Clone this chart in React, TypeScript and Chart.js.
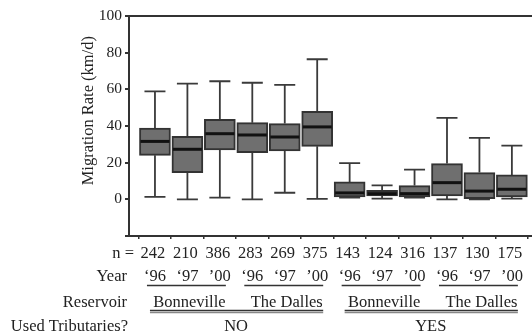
import React, { useEffect, useRef } from 'react';
import { Chart, registerables } from 'chart.js';

Chart.register(...registerables);

// ---- Data ----
const nCounts = ['242', '210', '386', '283', '269', '375', '143', '124', '316', '137', '130', '175'];
const years = ['‘96', '‘97', '’00', '‘96', '‘97', '’00', '‘96', '‘97', '’00', '‘96', '‘97', '’00'];
const reservoirs = ['Bonneville', 'The Dalles', 'Bonneville', 'The Dalles'];
const tributaries = ['NO', 'YES'];
const whiskerLow = [1.3, 0, 0.9, 0, 3.6, 0.2, 0.9, 0.4, 0.9, 0, 0, 0.4];
const q1 = [24, 14.6, 26.9, 25.5, 26.4, 28.9, 1.3, 1.8, 1.3, 1.8, 0.4, 1.3];
const median = [31.6, 27.3, 35.8, 35.1, 34, 39.5, 3.5, 3.1, 3.1, 9.1, 4.5, 5.5];
const q3 = [38.9, 34.4, 43.6, 41.8, 41.3, 48, 9.5, 4.9, 7.5, 19.5, 14.6, 13.3];
const whiskerHigh = [58.9, 63.1, 64.4, 63.6, 62.4, 76.4, 19.8, 7.6, 16.2, 44.4, 33.5, 29.3];
const yTickValues = [-20, 0, 20, 40, 60, 80, 100];
const yTitle = 'Migration Rate (km/d)';
const rowLabels = ['Year', 'Reservoir', 'Used Tributaries?'];

const FONT = '"Liberation Serif", "Times New Roman", serif';
const INK = '#222';

const boxPlugin = {
  id: 'boxExtras',
  beforeDatasetsDraw(chart: any) {
    const { ctx, scales } = chart;
    const x = scales.x, y = scales.y;
    ctx.save();
    ctx.strokeStyle = '#3a3a3a';
    ctx.lineWidth = 1.8;
    for (let i = 0; i < q1.length; i++) {
      const cx = x.getPixelForValue(i + 1);
      const yHi = y.getPixelForValue(whiskerHigh[i]);
      const yLo = y.getPixelForValue(whiskerLow[i]);
      ctx.beginPath();
      ctx.moveTo(cx, yHi);
      ctx.lineTo(cx, y.getPixelForValue(q3[i]));
      ctx.moveTo(cx, y.getPixelForValue(q1[i]));
      ctx.lineTo(cx, yLo);
      ctx.moveTo(cx - 10.5, yHi);
      ctx.lineTo(cx + 10.5, yHi);
      ctx.moveTo(cx - 10.5, yLo);
      ctx.lineTo(cx + 10.5, yLo);
      ctx.stroke();
    }
    ctx.restore();
  },
  afterDatasetsDraw(chart: any) {
    const { ctx, scales, chartArea } = chart;
    const x = scales.x, y = scales.y;
    ctx.save();
    // medians
    ctx.strokeStyle = '#111';
    ctx.lineWidth = 3;
    for (let i = 0; i < median.length; i++) {
      const cx = x.getPixelForValue(i + 1);
      const my = y.getPixelForValue(median[i]);
      ctx.beginPath();
      ctx.moveTo(cx - 14.5, my);
      ctx.lineTo(cx + 14.5, my);
      ctx.stroke();
    }
    // top frame line
    ctx.strokeStyle = '#333';
    ctx.lineWidth = 2;
    ctx.beginPath();
    ctx.moveTo(chartArea.left, chartArea.top);
    ctx.lineTo(chartArea.right, chartArea.top);
    ctx.stroke();

    const b = chartArea.bottom;
    ctx.fillStyle = INK;
    ctx.font = '16.5px ' + FONT;
    ctx.textBaseline = 'alphabetic';

    // n row
    ctx.textAlign = 'right';
    ctx.fillText('n =', 134, b + 22);
    ctx.textAlign = 'center';
    nCounts.forEach((t, i) => ctx.fillText(t, x.getPixelForValue(i + 1) - 2, b + 22));

    // year row
    years.forEach((t, i) => ctx.fillText(t, x.getPixelForValue(i + 1), b + 45));
    // reservoir row
    reservoirs.forEach((t, g) => {
      const c = (x.getPixelForValue(g * 3 + 1) + x.getPixelForValue(g * 3 + 3)) / 2;
      ctx.fillText(t, c + 2, b + 71);
    });
    // tributaries row
    tributaries.forEach((t, g) => {
      const c = (x.getPixelForValue(g * 6 + 1) + x.getPixelForValue(g * 6 + 6)) / 2;
      ctx.fillText(t, c, b + 95);
    });
    // left row labels
    ctx.textAlign = 'right';
    ctx.fillText(rowLabels[0], 127, b + 45);
    ctx.fillText(rowLabels[1], 127, b + 71);
    ctx.fillText(rowLabels[2], 128, b + 95);

    // underlines
    ctx.strokeStyle = '#333';
    ctx.lineWidth = 1.6;
    for (let g = 0; g < 4; g++) {
      const l = x.getPixelForValue(g * 3 + 1) - 8;
      const r = x.getPixelForValue(g * 3 + 3) + 6;
      ctx.beginPath();
      ctx.moveTo(l, b + 49.5);
      ctx.lineTo(r, b + 49.5);
      ctx.stroke();
    }
    for (let g = 0; g < 2; g++) {
      const l = x.getPixelForValue(g * 6 + 1) - 5;
      const r = x.getPixelForValue(g * 6 + 6) + 6;
      ctx.lineWidth = 1.4;
      ctx.strokeStyle = '#333';
      ctx.beginPath();
      ctx.moveTo(l, b + 74.5);
      ctx.lineTo(r, b + 74.5);
      ctx.stroke();
      ctx.strokeStyle = '#888';
      ctx.beginPath();
      ctx.moveTo(l, b + 76.5);
      ctx.lineTo(r, b + 76.5);
      ctx.stroke();
    }

    // y title
    ctx.fillStyle = INK;
    ctx.translate(89, y.getPixelForValue(50) + 3);
    ctx.rotate(-Math.PI / 2);
    ctx.textAlign = 'center';
    ctx.textBaseline = 'middle';
    ctx.font = '16.5px ' + FONT;
    ctx.fillText(yTitle, 0, 0);
    ctx.restore();
  },
};

export default function App() {
  const ref = useRef<HTMLCanvasElement | null>(null);
  useEffect(() => {
    if (!ref.current) return;
    const chart = new Chart(ref.current, {
      type: 'bar',
      data: {
        datasets: [
          {
            data: q1.map((v, i) => ({ x: i + 1, y: [v, q3[i]] })) as any,
            backgroundColor: '#6f6f6f',
            borderColor: '#333',
            borderWidth: 2,
            borderSkipped: false,
            barThickness: 31,
            grouped: false,
          } as any,
        ],
      },
      options: {
        animation: false,
        responsive: false,
        maintainAspectRatio: false,
        layout: { padding: { top: 16, right: 0, left: 0, bottom: 0 } },
        plugins: { legend: { display: false }, tooltip: { enabled: false } },
        scales: {
          x: {
            type: 'linear',
            min: 0.2,
            max: 12.62,
            offset: false,
            afterBuildTicks: (s: any) => {
              s.ticks = nCounts.map((_, i) => ({ value: i + 1 }));
            },
            afterFit: (s: any) => {
              s.height = 97;
            },
            ticks: { display: false },
            grid: { display: true, drawOnChartArea: false, drawTicks: true, tickLength: 3, color: '#333', lineWidth: 1.5 },
            border: { display: true, color: '#333', width: 2 },
          },
          y: {
            min: -20,
            max: 100,
            afterBuildTicks: (s: any) => {
              s.ticks = yTickValues.map((v) => ({ value: v }));
            },
            afterFit: (s: any) => {
              s.width = 129;
            },
            ticks: {
              callback: (v: any) => (v < 0 ? '' : String(v)),
              color: INK,
              font: { family: FONT, size: 15.5 },
              padding: 3,
            },
            grid: { display: true, drawOnChartArea: false, drawTicks: true, tickLength: 4, color: '#333', lineWidth: 2 },
            border: { display: true, color: '#333', width: 2 },
          },
        },
      },
      plugins: [boxPlugin],
    });
    return () => chart.destroy();
  }, []);
  return (
    <div style={{ position: 'fixed', left: 0, top: 0, width: 532, height: 333, background: '#fff' }}>
      <canvas ref={ref} width={532} height={333} style={{ display: 'block' }} />
    </div>
  );
}
